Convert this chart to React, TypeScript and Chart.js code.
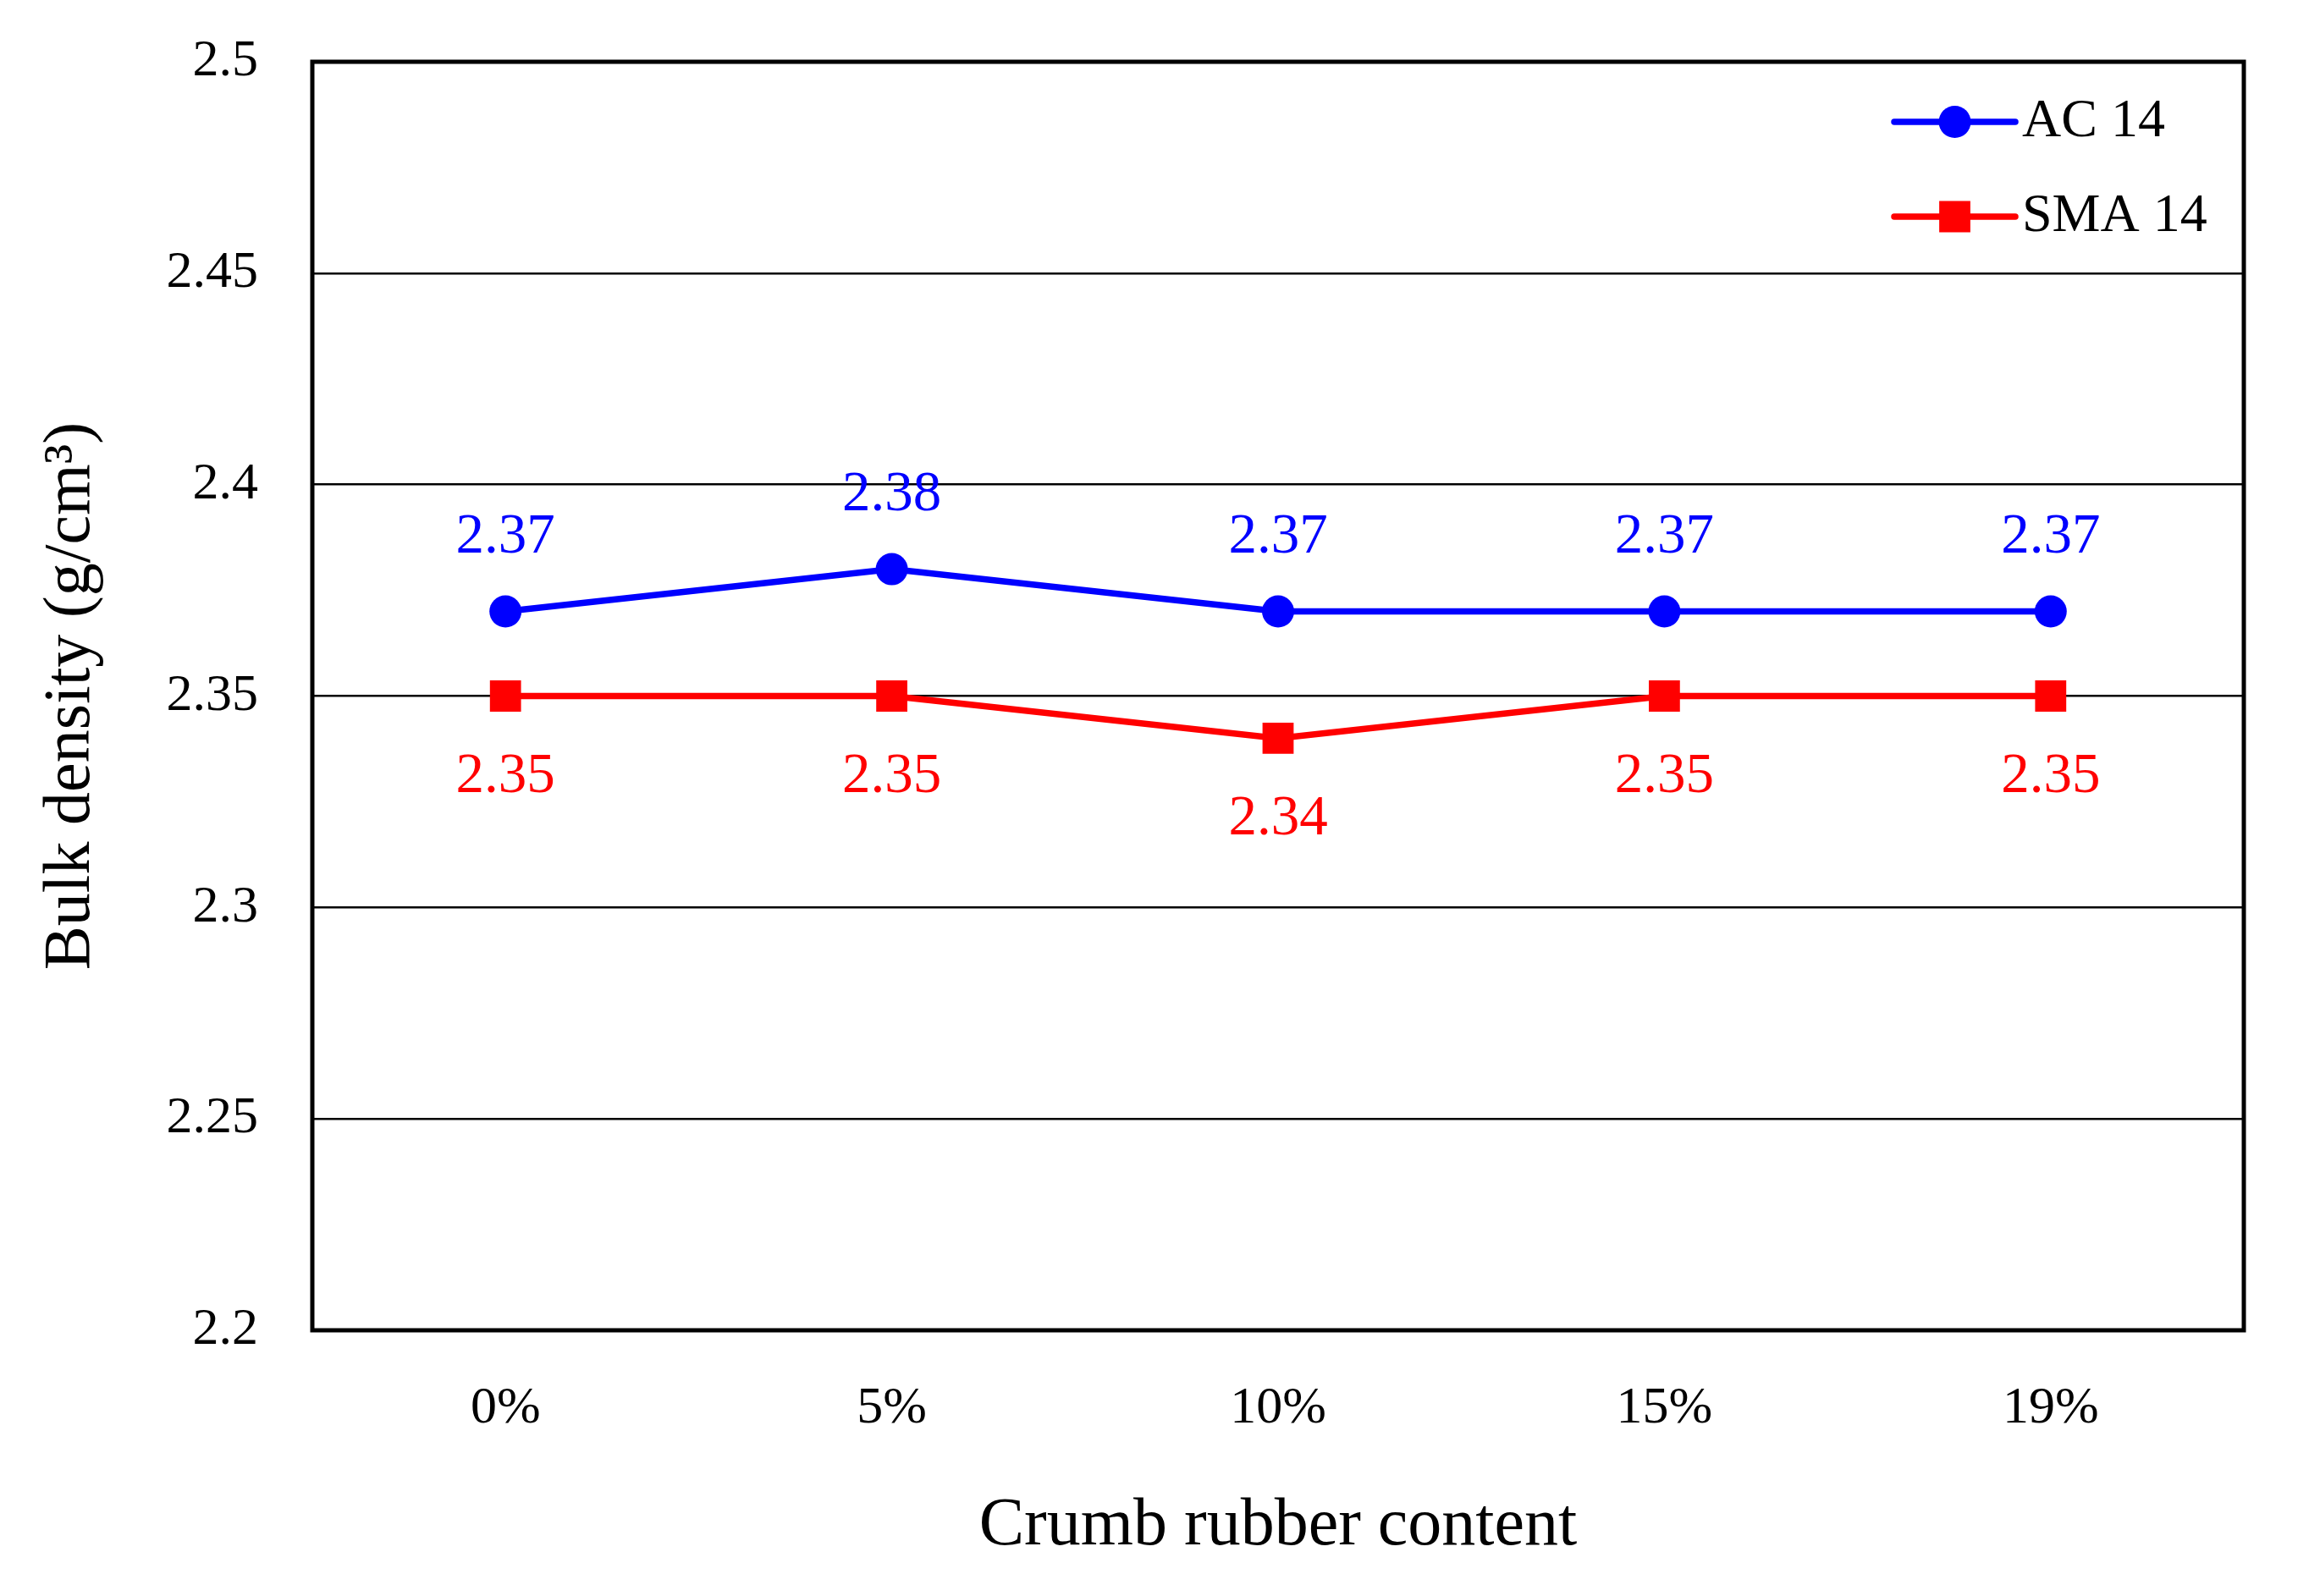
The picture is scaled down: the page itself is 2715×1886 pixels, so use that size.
import React, { useEffect, useRef } from 'react';
import { Chart, registerables } from 'chart.js';

Chart.register(...registerables);

const categories = ['0%', '5%', '10%', '15%', '19%'];
const ac14 = [2.37, 2.38, 2.37, 2.37, 2.37];
const sma14 = [2.35, 2.35, 2.34, 2.35, 2.35];
const yTicks = [2.2, 2.25, 2.3, 2.35, 2.4, 2.45, 2.5];
const seriesNames = ['AC 14', 'SMA 14'];
const seriesColors = ['#0000ff', '#ff0000'];

const W = 2715;
const H = 1886;
const FONT = '"Liberation Serif", "Times New Roman", serif';

const fmt = (v: number) => String(Number(v.toFixed(2)));

const framePlugin = {
  id: 'frame',
  afterDatasetsDraw(chart: any) {
    const { ctx, chartArea: a } = chart;
    ctx.save();
    ctx.strokeStyle = '#000';
    ctx.lineWidth = 5;
    ctx.strokeRect(a.left, a.top, a.right - a.left, a.bottom - a.top);
    ctx.restore();
  },
};

const labelPlugin = {
  id: 'pointLabels',
  afterDatasetsDraw(chart: any, _args: any, opts: any) {
    const { ctx } = chart;
    ctx.save();
    ctx.font = `${opts.size}px ${FONT}`;
    ctx.textAlign = 'center';
    ctx.textBaseline = 'middle';
    chart.data.datasets.forEach((ds: any, i: number) => {
      const meta = chart.getDatasetMeta(i);
      ctx.fillStyle = ds.borderColor;
      meta.data.forEach((pt: any, j: number) => {
        ctx.fillText(fmt(ds.data[j]), pt.x, pt.y + opts.offsets[i]);
      });
    });
    ctx.restore();
  },
};

const legendPlugin = {
  id: 'innerLegend',
  afterDraw(chart: any, _args: any, opts: any) {
    const { ctx, chartArea: a } = chart;
    ctx.save();
    chart.data.datasets.forEach((ds: any, i: number) => {
      const y = a.top + opts.rows[i];
      const x0 = a.right - opts.lineStart;
      const x1 = a.right - opts.lineEnd;
      const xm = (x0 + x1) / 2;
      ctx.strokeStyle = ds.borderColor;
      ctx.lineWidth = ds.borderWidth;
      ctx.lineCap = 'round';
      ctx.beginPath();
      ctx.moveTo(x0, y);
      ctx.lineTo(x1, y);
      ctx.stroke();
      ctx.fillStyle = ds.borderColor;
      ctx.beginPath();
      if (ds.pointStyle === 'rect') {
        const s = ds.pointRadius * Math.SQRT1_2;
        ctx.rect(xm - s, y - s, 2 * s, 2 * s);
      } else {
        ctx.arc(xm, y, ds.pointRadius, 0, Math.PI * 2);
      }
      ctx.fill();
      ctx.fillStyle = '#000';
      ctx.font = `${opts.size}px ${FONT}`;
      ctx.textAlign = 'left';
      ctx.textBaseline = 'middle';
      ctx.fillText(ds.label, x1 + opts.gap, y);
    });
    ctx.restore();
  },
};

export default function App() {
  const ref = useRef<HTMLCanvasElement | null>(null);

  useEffect(() => {
    if (!ref.current) return;
    const chart = new Chart(ref.current, {
      type: 'line',
      data: {
        labels: categories,
        datasets: [
          {
            label: seriesNames[0],
            data: ac14,
            borderColor: seriesColors[0],
            backgroundColor: seriesColors[0],
            borderWidth: 7.5,
            pointStyle: 'circle',
            pointRadius: 19,
            pointBorderWidth: 0,
            tension: 0,
          },
          {
            label: seriesNames[1],
            data: sma14,
            borderColor: seriesColors[1],
            backgroundColor: seriesColors[1],
            borderWidth: 7.5,
            pointStyle: 'rect',
            pointRadius: 26,
            pointBorderWidth: 0,
            tension: 0,
          },
        ],
      },
      options: {
        animation: false,
        responsive: false,
        devicePixelRatio: 1,
        layout: { padding: { top: 73, right: 64, left: 0, bottom: 0 } },
        plugins: {
          legend: { display: false },
          tooltip: { enabled: false },
          pointLabels: { size: 67, offsets: [-87, 96] },
          innerLegend: { size: 64, rows: [71, 183], lineStart: 413, lineEnd: 270, gap: 8 },
        } as any,
        scales: {
          x: {
            type: 'category',
            offset: true,
            grid: { display: false, drawTicks: false },
            border: { display: false },
            ticks: { color: '#000', font: { family: FONT, size: 62 }, padding: 56 },
            title: {
              display: true,
              text: 'Crumb rubber content',
              color: '#000',
              font: { family: FONT, size: 80 },
              padding: { top: 34, bottom: 34 },
            },
            afterFit: (s: any) => {
              s.height = H - 1572;
              s.paddingLeft = 0;
              s.paddingRight = 0;
            },
          },
          y: {
            min: 2.2,
            max: 2.5,
            afterBuildTicks: (s: any) => { s.ticks = yTicks.map((v) => ({ value: v })); },
            grid: { color: '#000', lineWidth: 2.5, drawTicks: false },
            border: { display: false },
            ticks: {
              color: '#000',
              font: { family: FONT, size: 62 },
              padding: 64,
              callback: (v: any) => fmt(Number(v)),
            },
            title: {
              display: true,
              text: 'Bulk density (g/cm³)',
              color: '#000',
              font: { family: FONT, size: 78 },
              padding: { top: 38, bottom: 38 },
            },
            afterFit: (s: any) => {
              s.width = 369;
              s.paddingTop = 0;
              s.paddingBottom = 0;
            },
          },
        },
      },
      plugins: [framePlugin, labelPlugin, legendPlugin],
    });
    return () => chart.destroy();
  }, []);

  return (
    <div style={{ position: 'fixed', left: 0, top: 0, width: W, height: H, background: '#fff' }}>
      <canvas ref={ref} width={W} height={H} style={{ width: W, height: H }} />
    </div>
  );
}
